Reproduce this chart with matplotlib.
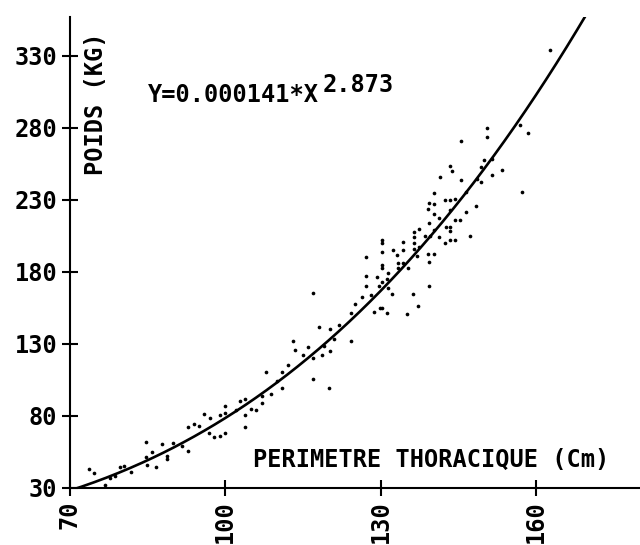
import numpy as np
import matplotlib
matplotlib.use("Agg")
import matplotlib.pyplot as plt

# fitted power law shown on the chart
coef_a = 0.000141
coef_b = 2.873

# perimetre thoracique (cm), poids (kg)
perimetre = [73.7, 74.7, 76.8, 77.7, 78.7, 79.7, 80.4, 81.8, 84.8, 84.8, 84.9, 85.9, 86.7,
             87.8, 88.8, 88.8, 89.9, 91.7, 92.8, 92.8, 93.9, 94.9, 95.9, 96.9, 97.0, 97.9,
             98.9, 98.9, 99.9, 99.9, 99.9, 102.0, 102.9, 103.9, 103.9, 103.9, 104.9, 105.9,
             107.0, 107.0, 107.9, 108.9, 109.9, 111.0, 110.9, 112.1, 113.1, 113.5, 115.0,
             116.0, 116.9, 117.0, 117.0, 118.1, 119.0, 118.6, 120.2, 122.0, 121.0, 120.2,
             120.0, 124.2, 124.2, 125.0, 126.3, 127.2, 127.2, 127.2, 128.2, 128.7, 129.2,
             129.7, 129.8, 130.3, 130.3, 130.3, 130.3, 130.3, 130.3, 130.3, 131.1, 131.3,
             131.3, 131.1, 132.2, 132.4, 133.2, 133.3, 133.3, 134.2, 134.3, 134.3, 135.3,
             135.1, 136.2, 136.4, 136.4, 136.4, 136.4, 136.9, 137.2, 137.3, 137.4, 138.5,
             139.1, 139.1, 139.3, 139.3, 139.3, 139.3, 139.5, 140.3, 140.3, 140.3, 140.3,
             140.3, 141.2, 141.2, 141.4, 142.3, 142.3, 142.5, 143.3, 143.3, 143.3, 143.3,
             143.4, 143.4, 143.8, 144.3, 144.3, 144.3, 145.2, 145.4, 145.4, 146.4, 146.4,
             147.2, 148.3, 148.5, 149.4, 149.4, 149.9, 150.4, 150.4, 151.4, 151.4, 153.3,
             157.3, 156.8, 158.4, 162.6]
poids = [43.2, 40.2, 32.1, 37.2, 38.3, 44.4, 45.5, 41.3, 61.9, 51.3, 46.0, 54.8, 44.9,
         60.3, 52.2, 49.9, 61.3, 59.2, 72.6, 55.9, 74.2, 73.3, 81.7, 68.0, 78.6, 65.1,
         66.3, 81.0, 87.2, 81.9, 68.2, 84.4, 90.6, 91.8, 80.6, 72.4, 84.9, 83.8,
         88.7, 94.1, 110.6, 94.9, 104.3, 110.3, 99.2, 115.1, 132.3, 125.6, 122.4,
         127.6, 120.3, 105.9, 165.2, 141.7, 128.8, 122.4, 140.1, 143.4, 133.3, 125.3,
         99.7, 132.1, 151.7, 157.6, 162.4, 190.2, 177.2, 170.3, 164.0, 152.4, 176.3,
         170.3, 154.8, 202.2, 200.3, 194.1, 184.9, 182.6, 173.3, 154.8, 175.1, 179.1,
         169.1, 151.7, 164.7, 195.3, 191.8, 186.0, 182.6, 186.5, 201.0, 195.3, 182.6,
         150.6, 164.5, 199.9, 195.7, 208.0, 204.1, 191.1, 156.4, 197.2, 209.9, 205.0,
         223.5, 192.5, 187.2, 170.3, 228.1, 214.2, 205.0, 234.5, 227.2, 220.3, 209.2,
         192.5, 217.3, 204.1, 245.8, 230.0, 200.3, 211.5, 223.1, 211.5, 208.1, 202.2,
         253.8, 230.0, 249.7, 230.5, 216.1, 202.2, 216.1, 243.9, 271.2, 235.8, 221.5,
         205.0, 226.0, 244.4, 253.1, 242.5, 257.8, 279.7, 273.3, 258.5, 247.4, 250.8,
         235.2, 282.1, 276.7, 333.7]

xticks = [70, 100, 130, 160]
yticks = [30, 80, 130, 180, 230, 280, 330]

font = {"family": "DejaVu Sans Mono", "weight": "bold", "size": 17}

fig = plt.figure(figsize=(6.4, 5.45), dpi=100)
ax = fig.add_axes([0.109, 0.1046, 0.891, 0.8644])

ax.scatter(perimetre, poids, s=7, c="black", marker="o", linewidths=0)
xs = np.linspace(70, 169.5, 300)
ax.plot(xs, coef_a * xs ** coef_b, color="black", lw=1.9)

ax.set_xlim(70, 180)
ax.set_ylim(30, 357)
for s in ["top", "right"]:
    ax.spines[s].set_visible(False)
for s in ["left", "bottom"]:
    ax.spines[s].set_linewidth(1.5)

ax.set_xticks(xticks)
ax.set_yticks(yticks)
ax.set_xticklabels([str(v) for v in xticks], rotation=90, fontdict=font)
ax.set_yticklabels([str(v) for v in yticks], fontdict=font)
ax.tick_params(direction="inout", length=12, width=1.5, pad=3)

ax.text(0.046, 0.815, "POIDS (KG)", transform=ax.transAxes, rotation=90,
        ha="center", va="center", fontdict=font)
ax.text(0.321, 0.059, "PERIMETRE THORACIQUE (Cm)", transform=ax.transAxes,
        ha="left", va="center", fontdict=font, clip_on=False)
t = ax.text(0.137, 0.834, "Y=0.000141*X", transform=ax.transAxes,
            ha="left", va="center", fontdict=font)
ax.annotate("2.873", xy=(1.0, 0.9), xycoords=t, xytext=(3, 0),
            textcoords="offset points", ha="left", va="center",
            fontsize=17, family="DejaVu Sans Mono", weight="bold")

fig.savefig("out.png", dpi=100)
